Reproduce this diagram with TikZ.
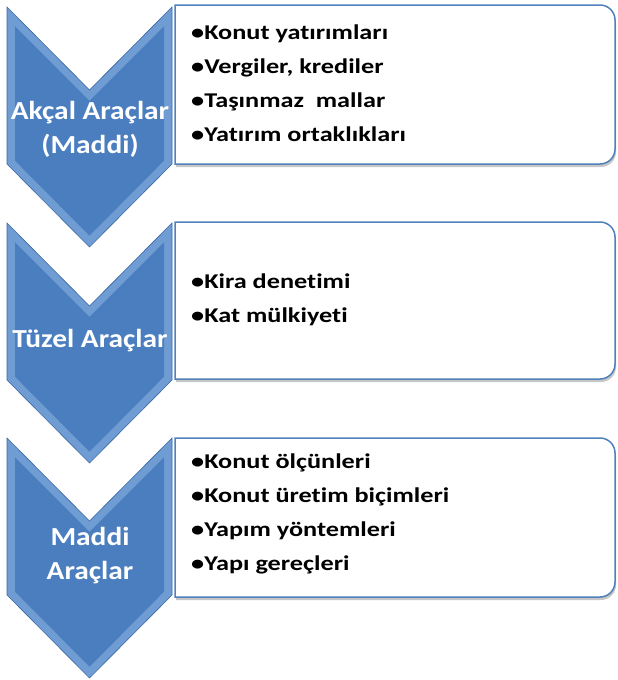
\documentclass[tikz,border=0pt]{standalone}
\usepackage{fontspec}
\setmainfont{Carlito}[Ligatures=NoCommon]
\newfontfamily\itemfont{Carlito}[Ligatures=NoCommon,FakeStretch=1.25]
\newfontfamily\chevfont{Carlito}[Ligatures=NoCommon,FakeStretch=1.13]
\definecolor{chevblue}{RGB}{74,126,190}
\definecolor{chevlight}{RGB}{112,156,212}
\definecolor{chevdark}{RGB}{60,104,164}
\definecolor{boxline}{RGB}{79,129,189}
\tikzset{
  chevron/.style={fill=chevlight,draw=chevdark,line width=0.6pt},
  chevinner/.style={fill=chevblue},
  infobox/.style={fill=white,draw=boxline,line width=1.5pt},
  boxshadow/.style={fill=black!22},
  chevtext/.style={text=white,inner sep=0pt,align=center,font=\chevfont\bfseries\fontsize{26}{34}\selectfont},
  itemtext/.style={anchor=west,inner sep=0pt,align=left,font=\itemfont\bfseries\fontsize{21}{34}\selectfont}
}

\begin{document}
\begin{tikzpicture}[x=1pt,y=-1pt]
\useasboundingbox (0,0) rectangle (618,680);
% box shadows
\fill[boxshadow,shift={(1,3)}] (175,5) -- (600,5) arc[start angle=90,end angle=0,radius=15pt] -- (615,149) arc[start angle=0,end angle=-90,radius=15pt] -- (175,164) -- cycle;
\fill[boxshadow,shift={(1,3)}] (175,222) -- (600,222) arc[start angle=90,end angle=0,radius=15pt] -- (615,364) arc[start angle=0,end angle=-90,radius=15pt] -- (175,379) -- cycle;
\fill[boxshadow,shift={(1,3)}] (175,438) -- (600,438) arc[start angle=90,end angle=0,radius=15pt] -- (615,582) arc[start angle=0,end angle=-90,radius=15pt] -- (175,597) -- cycle;
% boxes
\filldraw[infobox] (175,5) -- (600,5) arc[start angle=90,end angle=0,radius=15pt] -- (615,149) arc[start angle=0,end angle=-90,radius=15pt] -- (175,164) -- cycle;
\filldraw[infobox] (175,222) -- (600,222) arc[start angle=90,end angle=0,radius=15pt] -- (615,364) arc[start angle=0,end angle=-90,radius=15pt] -- (175,379) -- cycle;
\filldraw[infobox] (175,438) -- (600,438) arc[start angle=90,end angle=0,radius=15pt] -- (615,582) arc[start angle=0,end angle=-90,radius=15pt] -- (175,597) -- cycle;
% chevrons
\filldraw[chevron] (7,7) -- (89.5,90) -- (172,7) -- (172,164) -- (89.5,247) -- (7,164) -- cycle;
\fill[chevinner] (15,26.3) -- (89.5,100.8) -- (164,26.3) -- (164,160.7) -- (89.5,235.7) -- (15,160.7) -- cycle;
\filldraw[chevron] (7,223) -- (89.5,306) -- (172,223) -- (172,380) -- (89.5,463) -- (7,380) -- cycle;
\fill[chevinner] (15,242.3) -- (89.5,316.8) -- (164,242.3) -- (164,376.7) -- (89.5,451.7) -- (15,376.7) -- cycle;
\filldraw[chevron] (7,438) -- (89.5,521) -- (172,438) -- (172,595) -- (89.5,678) -- (7,595) -- cycle;
\fill[chevinner] (15,457.3) -- (89.5,531.8) -- (164,457.3) -- (164,591.7) -- (89.5,666.7) -- (15,591.7) -- cycle;
% labels
\node[chevtext] (akcal) at (90,129) {Akçal Araçlar\\(Maddi)};
\node[chevtext] (tuzel) at (90,341) {Tüzel Araçlar};
\node[chevtext] (maddi) at (90,556) {Maddi\\Araçlar};
\node[itemtext] (akcalitems) at (191,83.5) {•Konut yatırımları\\•Vergiler, krediler\\•Taşınmaz\ \ mallar\\•Yatırım ortaklıkları};
\node[itemtext] (tuzelitems) at (191,299.5) {•Kira denetimi\\•Kat mülkiyeti};
\node[itemtext] (maddiitems) at (191,514) {•Konut ölçünleri\\•Konut üretim biçimleri\\•Yapım yöntemleri\\•Yapı gereçleri};
\end{tikzpicture}
\end{document}
